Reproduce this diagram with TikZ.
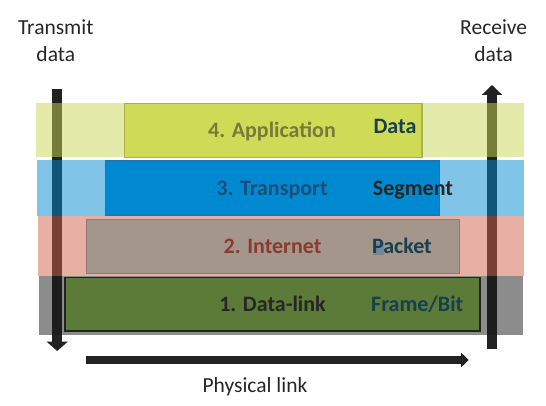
\documentclass[tikz,border=0pt]{standalone}
\usepackage{fontspec}
\setmainfont{Carlito}
\usetikzlibrary{arrows.meta}
\definecolor{arrowc}{HTML}{222222}
\definecolor{bandA}{HTML}{CAD653}
\definecolor{bandT}{HTML}{0189D1}
\definecolor{bandI}{HTML}{D15F49}
\definecolor{bandL}{HTML}{1A1A1A}
\definecolor{boxA}{HTML}{CFDB57}
\definecolor{boxAb}{HTML}{ADB04C}
\definecolor{boxT}{HTML}{0089D1}
\definecolor{boxTb}{HTML}{1679B5}
\definecolor{boxI}{HTML}{A5968C}
\definecolor{boxIb}{HTML}{8E7A70}
\definecolor{boxL}{HTML}{5C7A38}
\definecolor{txtA}{HTML}{787A3C}
\definecolor{txtT}{HTML}{1A4F7A}
\definecolor{txtI}{HTML}{8B3A2E}
\definecolor{txtK}{HTML}{262626}
\definecolor{txtD}{HTML}{173F4F}
\definecolor{hilite}{HTML}{70889A}
\tikzset{
  band/.style={draw=none, inner sep=0pt, outer sep=0pt, fill opacity=0.5},
  layerbox/.style={inner sep=0pt, outer sep=0pt, line width=1.2pt},
  layertxt/.style={inner sep=0pt, font=\fontsize{22}{26}\selectfont\bfseries, anchor=base},
  unittxt/.style={inner sep=0pt, font=\fontsize{22}{26}\selectfont\bfseries, anchor=base west, text=txtD},
  plaintxt/.style={inner sep=0pt, font=\fontsize{21.5}{26}\selectfont, text=txtK, anchor=base},
  bigarrow/.style={draw=arrowc, line width=10pt}
}
\begin{document}
\begin{tikzpicture}[x=1pt,y=-1pt]
\useasboundingbox (0,0) rectangle (546,406);
% arrow end points
\coordinate (txtop) at (57.2,89.3);
\coordinate (txbot) at (57.2,351);
\coordinate (rxbot) at (492,349);
\coordinate (rxtop) at (492,85);
\coordinate (phl) at (86,360);
\coordinate (phr) at (468.7,360);
% arrows (behind the translucent bands)
\draw[bigarrow, -{Triangle[width=21pt,length=9.5pt]}] (txtop) -- (txbot);
\draw[bigarrow, -{Triangle[width=20pt,length=10pt]}] (rxbot) -- (rxtop);
\draw[draw=arrowc, line width=8pt, -{Triangle[width=14pt,length=7.5pt]}] (phl) -- (phr);
% bands
\node[band, fill=bandA, minimum width=487.8pt, minimum height=54pt] (bandapp) at (279.6,129.7) {};
\node[band, fill=bandT, minimum width=486.5pt, minimum height=56pt] (bandtr) at (280.25,188) {};
\node[band, fill=bandI, minimum width=485.5pt, minimum height=60pt] (bandin) at (280.75,246) {};
\node[band, fill=bandL, minimum width=484pt, minimum height=59.3pt] (bandli) at (280.8,305.65) {};
% inner boxes
\node[layerbox, fill=boxA, draw=boxAb, minimum width=297.1pt, minimum height=54.4pt] (boxapp) at (273.35,130.5) {};
\node[layerbox, fill=boxT, draw=boxTb, minimum width=334.2pt, minimum height=54pt] (boxtr) at (272.5,188) {};
\node[layerbox, fill=boxI, draw=boxIb, minimum width=373.4pt, minimum height=54pt] (boxin) at (273,246.3) {};
\node[layerbox, fill=boxL, draw=arrowc, line width=1.5pt, minimum width=415.4pt, minimum height=53.7pt] (boxli) at (272.5,304.15) {};
% layer names
\node[layertxt, text=txtA] (lapp) at (272,137.3) {4. Application};
\node[layertxt, text=txtT] (ltr) at (272,196) {3. Transport};
\node[layertxt, text=txtI] (lin) at (272.5,253.3) {2. Internet};
\node[layertxt, text=txtK] (lli) at (272.5,311.7) {1. Data-link};
% units
\node[unittxt] (uapp) at (373.4,134) {Data};
\node[unittxt, text=txtK] (utr) at (372.7,196) {Segment};
\fill[hilite] (372.6,242.3) rectangle (383.6,255) coordinate (hl);
\node[unittxt] (uin) at (371.8,253.3) {Packet};
\node[unittxt] (uli) at (371,311.7) {Frame/Bit};
% outer labels
\node[plaintxt] (tx1) at (55.8,34.3) {Transmit};
\node[plaintxt] (tx2) at (55.8,61.7) {data};
\node[plaintxt] (rx1) at (493.7,34.3) {Receive};
\node[plaintxt] (rx2) at (493.7,61.7) {data};
\node[plaintxt] (phys) at (255,392.7) {Physical link};
\end{tikzpicture}
\end{document}
